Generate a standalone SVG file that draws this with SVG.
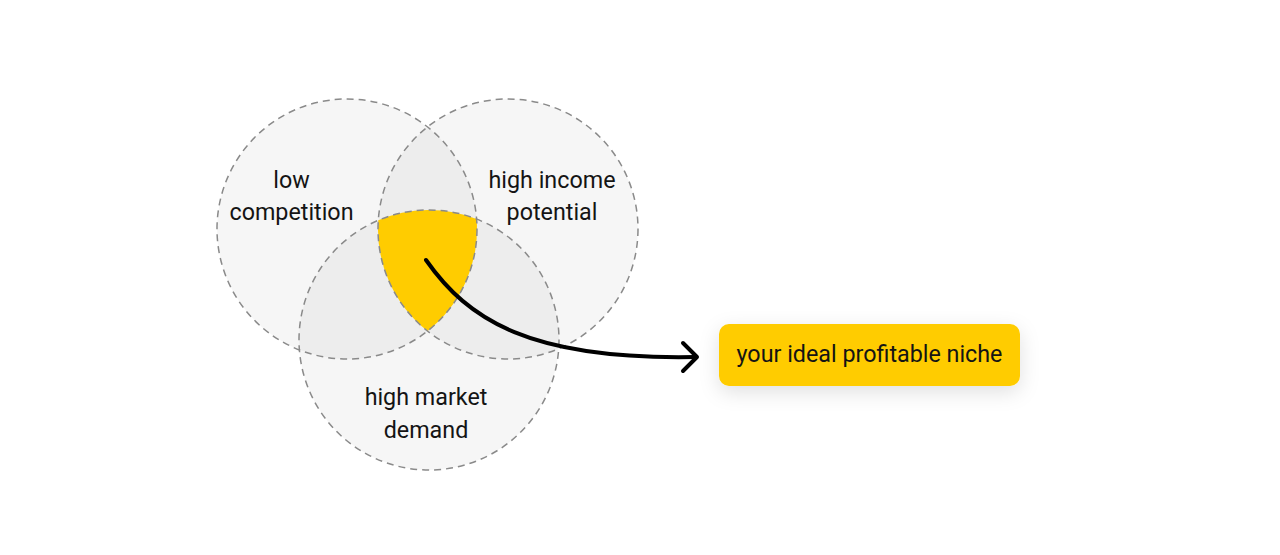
<svg xmlns="http://www.w3.org/2000/svg" width="1280" height="555" viewBox="0 0 1280 555">
<style>
.fill{fill:#000;fill-opacity:0.035;stroke:none}
.ring{fill:none;stroke:#8a8a8a;stroke-width:1.5;stroke-dasharray:7 5}
.lbl{font-family:Roboto,"Liberation Sans",sans-serif;font-size:23.3px;fill:#141414;text-anchor:middle}
</style>
<defs>
<filter id="sh" x="-30%" y="-60%" width="160%" height="220%">
<feDropShadow dx="0" dy="6" stdDeviation="10" flood-color="#000" flood-opacity="0.12"/>
</filter>
</defs>
<rect width="1280" height="555" fill="#fff"/>
<g id="circle-fills">
<circle class="fill" cx="347" cy="229" r="130"/>
<circle class="fill" cx="508" cy="229" r="130"/>
<circle class="fill" cx="429" cy="340" r="130"/>
</g>
<g id="intersection">
<path d="M378.3,220.3 A130,130 0 0 1 476.6,219 A130,130 0 0 1 427.5,331.1 A130,130 0 0 1 378.3,220.3 Z" fill="#FFCC00"/>
</g>
<g id="low-competition">
<circle class="ring" cx="347" cy="229" r="130"/>
<text class="lbl" x="291.5" y="188">low</text>
<text class="lbl" x="291.5" y="220">competition</text>
</g>
<g id="high-income-potential">
<circle class="ring" cx="508" cy="229" r="130"/>
<text class="lbl" x="552" y="188">high income</text>
<text class="lbl" x="552" y="220">potential</text>
</g>
<g id="high-market-demand">
<circle class="ring" cx="429" cy="340" r="130"/>
<text class="lbl" x="426" y="405">high market</text>
<text class="lbl" x="426" y="438">demand</text>
</g>
<g id="connectors" fill="none" stroke="#000" stroke-width="4" stroke-linecap="round" stroke-linejoin="round">
<path d="M426,260 C468,320 530,360 695,357"/>
<path d="M683,343 L697,357 L683,371"/>
</g>
<g id="niche">
<rect x="719" y="324" width="301" height="62" rx="10" fill="#FFCC00" filter="url(#sh)"/>
<text class="lbl" x="869.5" y="362">your ideal profitable niche</text>
</g>
</svg>
